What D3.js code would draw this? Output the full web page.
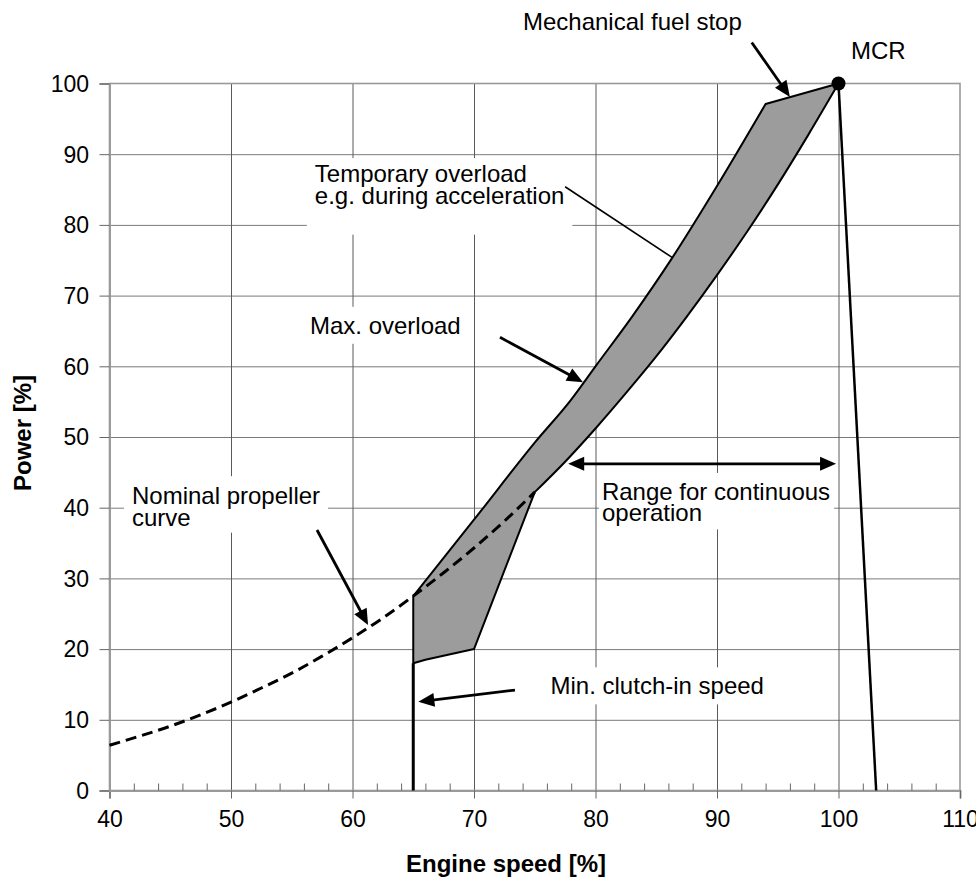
<!DOCTYPE html>
<html>
<head>
<meta charset="utf-8">
<script src="https://cdn.jsdelivr.net/npm/d3@7"></script>
<style>
  body { margin: 0; background: #fff; }
  text { font-family: "Liberation Sans", Arial, Helvetica, sans-serif; fill: #000; }
</style>
</head>
<body>
<svg id="chart" width="976" height="879"></svg>
<script>
// ---- data (engine speed %, power %) ----
const xTicks = [40, 50, 60, 70, 80, 90, 100, 110];
const yTicks = [0, 10, 20, 30, 40, 50, 60, 70, 80, 90, 100];
const xMinorTicks = [42, 44, 46, 48, 52, 54, 56, 58, 62, 64, 66, 68, 72, 74, 76, 78,
                     82, 84, 86, 88, 92, 94, 96, 98, 102, 104, 106, 108];

// nominal propeller curve (dashed part, below the operating area)
const propellerCurve = [[40, 6.4], [42.5, 7.7], [45, 9.1], [47.5, 10.7], [50, 12.5],
                        [52.5, 14.5], [55, 16.6], [57.5, 19.0], [60, 21.6], [62.5, 24.4],
                        [65, 27.5], [67.5, 30.8], [70, 34.3], [72.5, 38.1], [75, 42.2]];
// propeller curve limiting the continuous range, up to MCR
const continuousLimit = [[75, 42.2], [77.5, 46.5], [80, 51.2], [82.5, 56.2], [85, 61.4],
                         [87.5, 67.0], [90, 72.9], [92.5, 79.1], [95, 85.7], [97.5, 92.7],
                         [100, 100]];
// maximum overload limit (upper-left edge of the shaded area)
const overloadLimit = [[65, 27.5], [70, 38.3], [75, 49.2], [78, 55.3], [80, 60.0],
                       [83, 67.0], [86.3, 75.3], [90, 85.5], [94, 97.1]];
// mechanical fuel stop up to MCR
const fuelStop = [[94, 97.1], [100, 100]];
// lower edge of the area near the clutch-in speed
const clutchEdge = [[75, 42.2], [70, 20.0], [66, 18.5], [65, 18.0]];
// clutch-in speed line and the speed limit line from MCR
const clutchInLine = [[65, 0], [65, 18.0]];
const speedLimitLine = [[100, 100], [103.1, 0]];
const mcrPoint = [100, 100];

// ---- layout ----
const svg = d3.select("#chart");
const x = d3.scaleLinear().domain([40, 110]).range([109.5, 960]);
const y = d3.scaleLinear().domain([0, 100]).range([790.5, 83.5]);
const TICK_FONT = 23;
const LABEL_FONT = 24;

const px = d => x(d[0]);
const py = d => y(d[1]);
const linear = d3.line().x(px).y(py);
const smooth = d3.line().x(px).y(py).curve(d3.curveMonotoneX);

// ---- grid ----
const grid = svg.append("g");
grid.append("g")
  .attr("transform", `translate(${x(40)},0)`)
  .call(d3.axisLeft(y).tickValues(yTicks.filter(v => v > 0 && v < 100))
        .tickSize(-(x(110) - x(40))).tickFormat(""))
  .call(g => g.select(".domain").remove())
  .selectAll("line").attr("stroke", "#7a7a7a").attr("stroke-width", 1);
grid.append("g")
  .attr("transform", `translate(0,${y(0)})`)
  .call(d3.axisBottom(x).tickValues(xTicks.filter(v => v > 40 && v < 110))
        .tickSize(-(y(0) - y(100))).tickFormat(""))
  .call(g => g.select(".domain").remove())
  .selectAll("line").attr("stroke", "#5a5a5a").attr("stroke-width", 1);

// plot frame
svg.append("rect")
  .attr("x", x(40)).attr("y", y(100))
  .attr("width", x(110) - x(40)).attr("height", y(0) - y(100))
  .attr("fill", "none").attr("stroke", "#9a9a9a").attr("stroke-width", 1.6);

// ---- axes ----
const xAxis = svg.append("g")
  .attr("transform", `translate(0,${y(0)})`)
  .call(d3.axisBottom(x).tickValues(xTicks).tickSize(8).tickPadding(20).tickFormat(d3.format("d")));
xAxis.select(".domain").attr("stroke", "#9a9a9a").attr("stroke-width", 2);
xAxis.selectAll(".tick line").attr("stroke", "#666");
xAxis.selectAll(".tick text").attr("font-size", TICK_FONT).attr("dy", "0.71em").attr("y", 20)
  .style("font-family", "'Liberation Sans', Arial, sans-serif").attr("fill", "#000");

const xMinor = svg.append("g")
  .attr("transform", `translate(0,${y(0)})`)
  .call(d3.axisBottom(x).tickValues(xMinorTicks).tickSize(-7).tickFormat(""));
xMinor.select(".domain").remove();
xMinor.selectAll("line").attr("stroke", "#666");

const yAxis = svg.append("g")
  .attr("transform", `translate(${x(40)},0)`)
  .call(d3.axisLeft(y).tickValues(yTicks).tickSize(10).tickPadding(10.5).tickFormat(d3.format("d")));
yAxis.select(".domain").attr("stroke", "#9a9a9a").attr("stroke-width", 2);
yAxis.selectAll(".tick line").attr("stroke", "#666");
yAxis.selectAll(".tick text").attr("font-size", TICK_FONT).attr("dy", "0.34em")
  .style("font-family", "'Liberation Sans', Arial, sans-serif").attr("fill", "#000");

// axis titles
svg.append("text")
  .attr("x", 506).attr("y", 872)
  .attr("text-anchor", "middle").attr("font-size", 24).attr("font-weight", "bold")
  .text("Engine speed [%]");
svg.append("text")
  .attr("transform", `translate(31,${(y(0) + y(100)) / 2 - 4}) rotate(-90)`)
  .attr("text-anchor", "middle").attr("font-size", 24).attr("font-weight", "bold")
  .text("Power [%]");

// ---- text labels on white boxes ----
const labelLayer = svg.append("g");
function label(lines, at, pad) {
  const g = labelLayer.append("g");
  const t = g.append("text")
    .attr("x", x(at[0])).attr("y", y(at[1]))
    .attr("font-size", LABEL_FONT);
  lines.forEach((s, i) => {
    t.append("tspan").attr("x", x(at[0])).attr("dy", i === 0 ? 0 : 21.5).text(s);
  });
  if (pad) {
    const b = t.node().getBBox();
    g.insert("rect", "text")
      .attr("x", b.x - pad[3]).attr("y", b.y - pad[0])
      .attr("width", b.width + pad[1] + pad[3]).attr("height", b.height + pad[0] + pad[2])
      .attr("fill", "#fff");
  }
  return g;
}

// ---- operating area ----
const areaPath =
  smooth(overloadLimit) +
  linear(fuelStop).replace(/^M/, "L") +
  smooth(continuousLimit.slice().reverse()).replace(/^M/, "L") +
  linear(clutchEdge).replace(/^M/, "L") + "Z";

const marks = svg.append("g");
// labels with white backgrounds go under the marks
label(["Temporary overload", "e.g. during acceleration"], [56.9, 86.05], [2, 8, 26, 8]);
label(["Max. overload"], [56.5, 64.6], [5, 6, 5, 6]);
label(["Nominal propeller", "curve"], [41.85, 40.5], [6, 8, 2, 8]);
label(["Range for continuous", "operation"], [80.53, 41.1], [5, 4, 3, 3]);
label(["Min. clutch-in speed"], [76.3, 13.6], [5, 6, 5, 6]);
label(["Mechanical fuel stop"], [74.03, 107.6], null);
label(["MCR"], [101.03, 103.5], null);

marks.append("path")
  .attr("d", areaPath)
  .attr("fill", "#9c9c9c").attr("stroke", "#000").attr("stroke-width", 2)
  .attr("stroke-linejoin", "round");

marks.append("path")
  .attr("d", smooth(propellerCurve))
  .attr("fill", "none").attr("stroke", "#000").attr("stroke-width", 3)
  .attr("stroke-dasharray", "11,6");

marks.append("path")
  .attr("d", linear(clutchInLine))
  .attr("fill", "none").attr("stroke", "#000").attr("stroke-width", 3);

marks.append("path")
  .attr("d", linear(speedLimitLine))
  .attr("fill", "none").attr("stroke", "#000").attr("stroke-width", 2.5);

marks.append("circle")
  .attr("cx", px(mcrPoint)).attr("cy", py(mcrPoint)).attr("r", 7)
  .attr("fill", "#000");

// ---- annotation arrows ----
function arrow(from, to, opts = {}) {
  const { head = true, tail = false, width = 2.8, len = 16, half = 7 } = opts;
  let x0 = x(from[0]), y0 = y(from[1]), x1 = x(to[0]), y1 = y(to[1]);
  const dx = x1 - x0, dy = y1 - y0, d = Math.hypot(dx, dy);
  const ux = dx / d, uy = dy / d;
  const g = marks.append("g");
  const lx0 = tail ? x0 + ux * (len - 2) : x0;
  const ly0 = tail ? y0 + uy * (len - 2) : y0;
  const lx1 = head ? x1 - ux * (len - 2) : x1;
  const ly1 = head ? y1 - uy * (len - 2) : y1;
  g.append("line").attr("x1", lx0).attr("y1", ly0).attr("x2", lx1).attr("y2", ly1)
    .attr("stroke", "#000").attr("stroke-width", width);
  const tri = (tx, ty, vx, vy) => {
    const bx = tx - vx * len, by = ty - vy * len;
    const pts = [[tx, ty], [bx - vy * half, by + vx * half], [bx + vy * half, by - vx * half]];
    g.append("path").attr("d", "M" + pts.map(p => p.join(",")).join("L") + "Z").attr("fill", "#000");
  };
  if (head) tri(x1, y1, ux, uy);
  if (tail) tri(x0, y0, -ux, -uy);
}

arrow([92.86, 105.8], [96.0, 98.1]);                           // mechanical fuel stop
arrow([72.14, 64.1], [78.97, 57.75]);                          // max. overload
arrow([77.5, 85.4], [86.3, 75.4], { head: false, width: 1.6 }); // temporary overload leader
arrow([57.08, 36.85], [61.28, 23.4]);                          // nominal propeller curve
arrow([73.37, 14.2], [65.42, 12.55]);                          // min. clutch-in speed
arrow([77.75, 46.2], [99.8, 46.2], { tail: true });            // range for continuous operation
</script>
</body>
</html>
